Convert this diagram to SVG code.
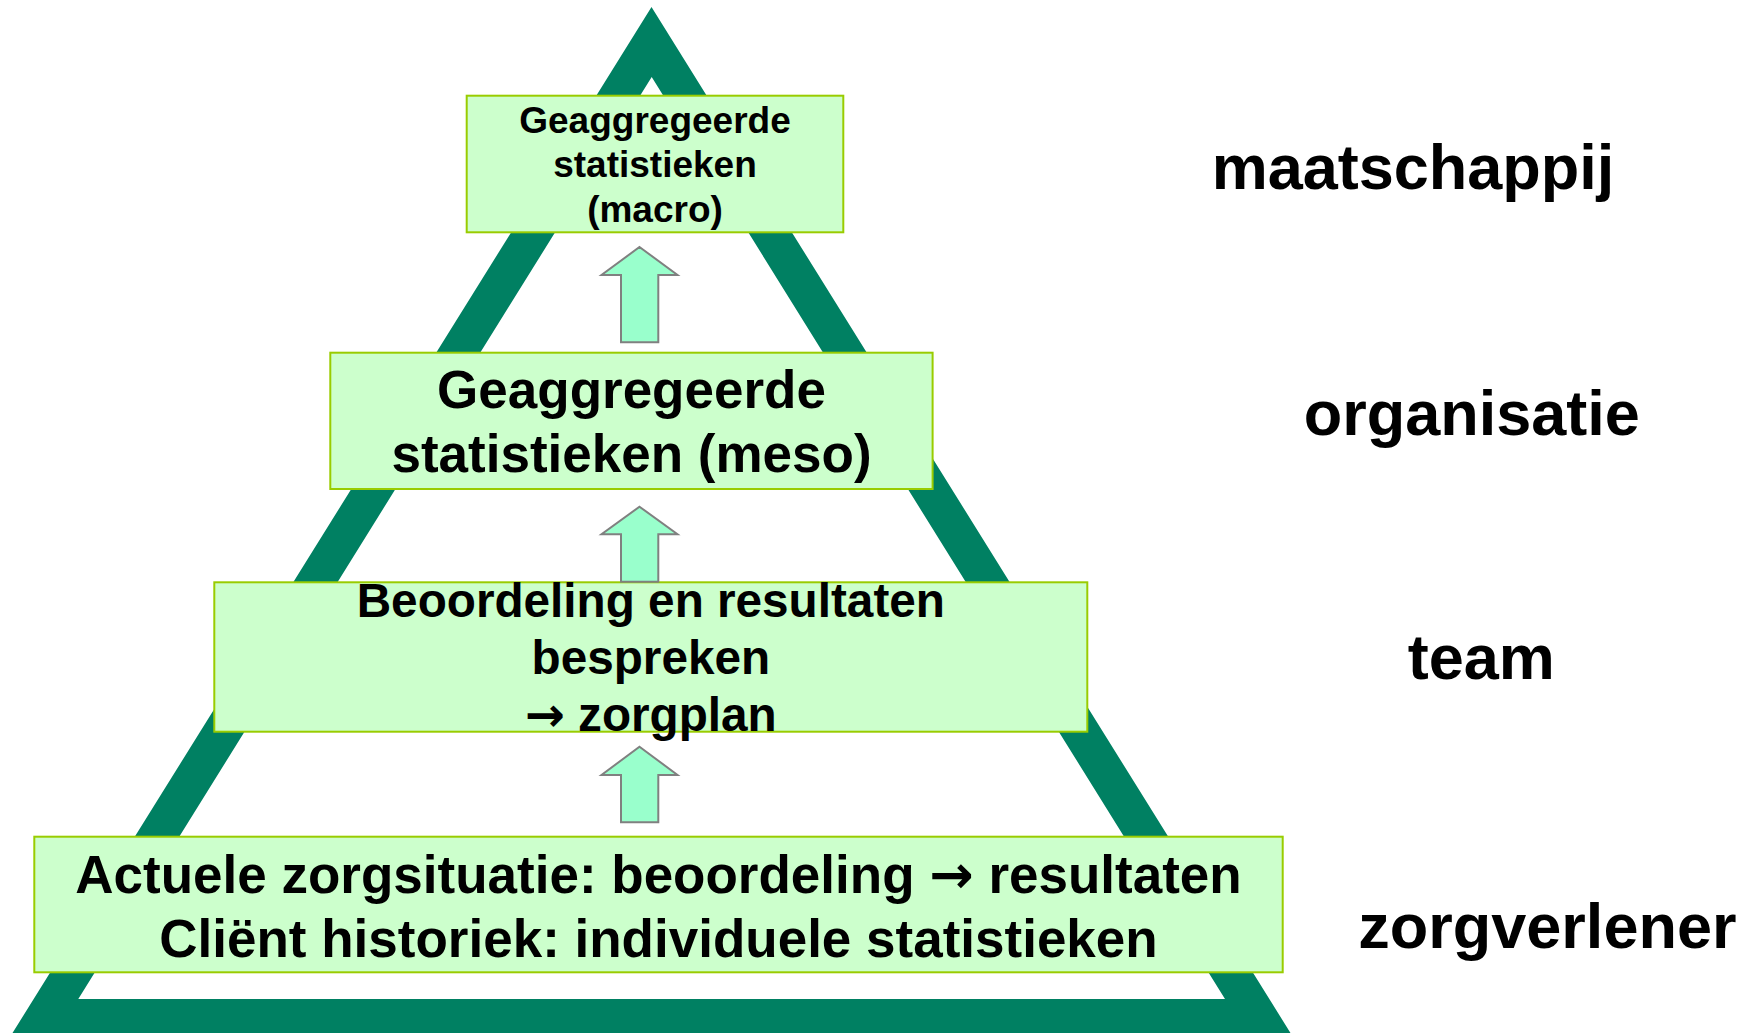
<svg xmlns="http://www.w3.org/2000/svg" width="1756" height="1033" viewBox="0 0 1756 1033">
<style>
.box{fill:#CCFFCC;stroke:#99CC00;stroke-width:2}
.arr{fill:#99FFCC;stroke:#808080;stroke-width:2}
text{font-family:"Liberation Sans",Arial,sans-serif;font-weight:bold;fill:#000}
.c{text-anchor:middle}
.lbl{font-size:63px}
.ar{font-family:"DejaVu Sans",sans-serif;font-weight:bold}
</style>
<rect width="1756" height="1033" fill="#FFFFFF"/>
<g id="pyramid">
<path fill="#008062" fill-rule="evenodd" d="M651.5,7 L12.5,1033 L1290.5,1033 Z M651.7,77 L78.3,999 L1225,999 Z"/>
</g>
<g id="macro">
<rect class="box" x="466.7" y="95.7" width="376.6" height="136.6"/>
<text class="c" font-size="37" x="655" y="132.5">Geaggregeerde</text>
<text class="c" font-size="37" x="655" y="177">statistieken</text>
<text class="c" font-size="37" x="655" y="221.5">(macro)</text>
</g>
<g id="meso">
<rect class="box" x="330.3" y="352.7" width="602.3" height="136.3"/>
<text class="c" font-size="53" x="631.5" y="408">Geaggregeerde</text>
<text class="c" font-size="53" x="631.5" y="472">statistieken (meso)</text>
</g>
<g id="team">
<rect class="box" x="214.3" y="582.3" width="873" height="149.4"/>
<text class="c" font-size="47.7" x="650.8" y="617">Beoordeling en resultaten</text>
<text class="c" font-size="47.7" x="650.8" y="674">bespreken</text>
<text class="c" font-size="47.7" x="650.8" y="731"><tspan class="ar">→</tspan> zorgplan</text>
</g>
<g id="zorgverlener-box">
<rect class="box" x="34.3" y="836.7" width="1248.4" height="135.6"/>
<text class="c" font-size="53" x="658.5" y="893">Actuele zorgsituatie: beoordeling <tspan class="ar">→</tspan> resultaten</text>
<text class="c" font-size="53" x="658.5" y="957">Cliënt historiek: individuele statistieken</text>
</g>
<g id="connectors">
<polygon class="arr" points="639.5,247 677.5,275 658.3,275 658.3,342.3 621,342.3 621,275 601.5,275"/>
<polygon class="arr" points="639.5,506.7 677.5,534.3 658.3,534.3 658.3,581.7 621,581.7 621,534.3 601.5,534.3"/>
<polygon class="arr" points="639.5,746.7 677.5,775 658.3,775 658.3,822.3 621,822.3 621,775 601.5,775"/>
</g>
<g id="labels">
<text class="lbl" x="1211.7" y="189.3">maatschappij</text>
<text class="lbl" x="1303.7" y="435">organisatie</text>
<text class="lbl" x="1407.7" y="679.3">team</text>
<text class="lbl" x="1358.3" y="948.3">zorgverlener</text>
</g>
</svg>
